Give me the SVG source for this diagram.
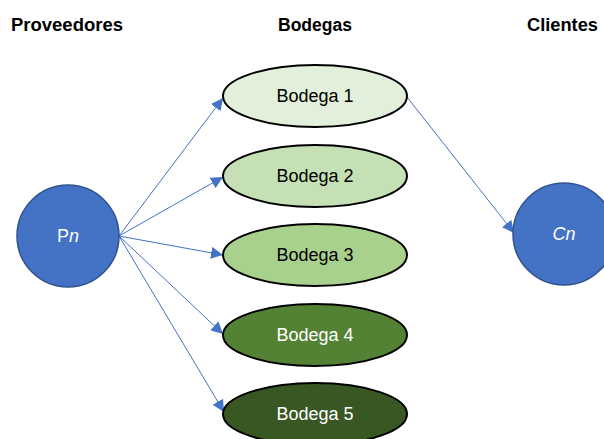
<svg xmlns="http://www.w3.org/2000/svg" width="604" height="439" viewBox="0 0 604 439">
  <style>
    .title { font-family: "Liberation Sans", Arial, sans-serif; font-weight: bold; font-size: 18px; fill: #000; }
    .lbl { font-family: "Liberation Sans", Arial, sans-serif; font-size: 18px; text-anchor: middle; }
    .dark { fill: #000; }
    .light { fill: #fff; }
    .bodega { stroke: #000; stroke-width: 2; }
    .node { fill: #4472C4; stroke: #2F528F; stroke-width: 1.5; }
    .edge { stroke: #4472C4; stroke-width: 1; fill: none; marker-end: url(#arrow); }
  </style>
  <defs>
    <marker id="arrow" viewBox="0 0 10 10" refX="10" refY="5" markerWidth="12" markerHeight="12" markerUnits="userSpaceOnUse" orient="auto">
      <path d="M0,0 L10,5 L0,10 z" fill="#4472C4"/>
    </marker>
  </defs>

  <rect width="604" height="439" fill="#fff"/>

  <!-- column headings -->
  <text class="title" x="11" y="31" textLength="112" lengthAdjust="spacingAndGlyphs">Proveedores</text>
  <text class="title" x="278" y="31" textLength="74" lengthAdjust="spacingAndGlyphs">Bodegas</text>
  <text class="title" x="527" y="31" textLength="71" lengthAdjust="spacingAndGlyphs">Clientes</text>

  <!-- connectors -->
  <g id="connectors">
    <line class="edge" x1="119" y1="236" x2="223" y2="98"/>
    <line class="edge" x1="119" y1="236" x2="223" y2="177"/>
    <line class="edge" x1="119" y1="236" x2="223" y2="255"/>
    <line class="edge" x1="119" y1="236" x2="223" y2="334"/>
    <line class="edge" x1="119" y1="236" x2="224" y2="412"/>
    <line class="edge" x1="407" y1="97" x2="514" y2="233"/>
  </g>

  <g id="proveedor">
    <circle class="node" cx="68" cy="236" r="51"/>
    <text class="lbl light" x="68" y="242">P<tspan font-style="italic">n</tspan></text>
  </g>

  <g id="bodega1">
    <ellipse class="bodega" cx="315" cy="96" rx="92" ry="31" fill="#E2EFDA"/>
    <text class="lbl dark" x="315" y="102">Bodega 1</text>
  </g>
  <g id="bodega2">
    <ellipse class="bodega" cx="315" cy="176" rx="92" ry="31" fill="#C5E0B4"/>
    <text class="lbl dark" x="315" y="182">Bodega 2</text>
  </g>
  <g id="bodega3">
    <ellipse class="bodega" cx="315" cy="255" rx="92" ry="31" fill="#A9D18E"/>
    <text class="lbl dark" x="315" y="261">Bodega 3</text>
  </g>
  <g id="bodega4">
    <ellipse class="bodega" cx="315" cy="335" rx="92" ry="31" fill="#548235"/>
    <text class="lbl light" x="315" y="341">Bodega 4</text>
  </g>
  <g id="bodega5">
    <ellipse class="bodega" cx="315" cy="414" rx="92" ry="31" fill="#385723"/>
    <text class="lbl light" x="315" y="420">Bodega 5</text>
  </g>

  <g id="cliente">
    <circle class="node" cx="564" cy="234" r="51"/>
    <text class="lbl light" x="564" y="240" font-style="italic">Cn</text>
  </g>
</svg>
